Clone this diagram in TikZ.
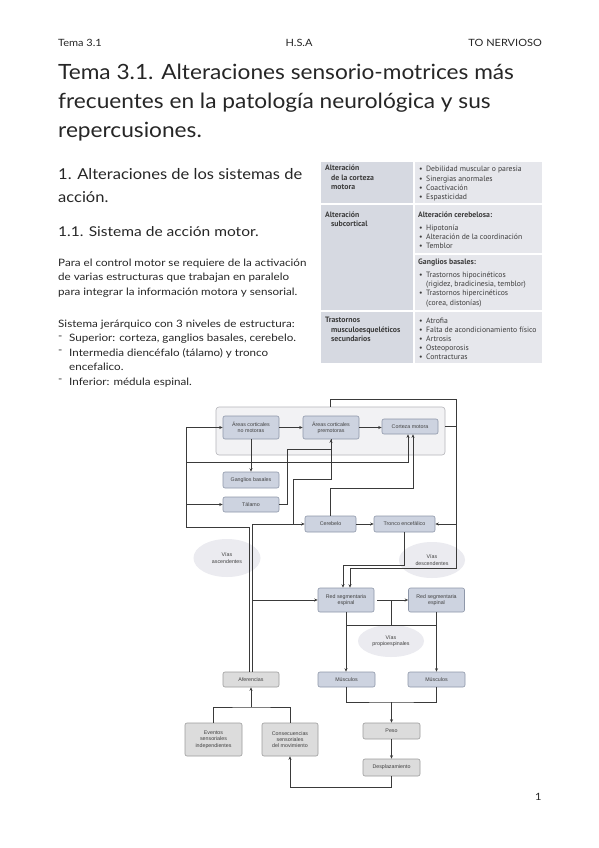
\documentclass[tikz,border=0pt]{standalone}
\usepackage{fontspec}
\setmainfont{Lato}
\newfontfamily\hdrfont[FakeStretch=1.1]{Lato}
\newfontfamily\ttlfont[FakeStretch=1.08]{Lato}
\newfontfamily\honefont[FakeStretch=1.1]{Lato}
\newfontfamily\htwofont[FakeStretch=1.15]{Lato}
\newfontfamily\bodyfont[FakeStretch=1.14]{Lato}
\newfontfamily\tabfont{PT Sans}
\newfontfamily\diafont{Liberation Sans}
\usetikzlibrary{arrows.meta,shapes.geometric}
\definecolor{ink}{HTML}{262626}
\definecolor{tabL}{HTML}{D6D9E1}
\definecolor{tabR}{HTML}{E6E7EC}
\definecolor{tabink}{HTML}{3C3C3C}
\definecolor{bfill}{HTML}{CDD3E0}
\definecolor{bdraw}{HTML}{8E97A9}
\definecolor{gfill}{HTML}{DCDCDC}
\definecolor{gdraw}{HTML}{9C9C9C}
\definecolor{grpfill}{HTML}{F2F2F4}
\definecolor{grpdraw}{HTML}{B4B4B9}
\definecolor{ellfill}{HTML}{EBEBF0}
\definecolor{wirec}{HTML}{3A3A3A}
\definecolor{dink}{HTML}{404040}
\begin{document}
\begin{tikzpicture}[x=1pt,y=-1pt,
  txt/.style={inner sep=0pt,anchor=base west,text=ink},
  hdr/.style={txt,font=\hdrfont\fontsize{10}{12}\selectfont},
  ttl/.style={txt,font=\ttlfont\fontsize{21}{25}\selectfont},
  hone/.style={txt,font=\honefont\fontsize{15}{18}\selectfont},
  htwo/.style={txt,font=\htwofont\fontsize{13.5}{16}\selectfont},
  body/.style={txt,font=\bodyfont\fontsize{10.2}{12}\selectfont},
  tabh/.style={txt,text=tabink,font=\tabfont\bfseries\fontsize{7.8}{9}\selectfont},
  tabt/.style={txt,text=tabink,font=\tabfont\fontsize{7.7}{9}\selectfont},
  box/.style={rounded corners=2pt,line width=0.6pt,inner sep=0pt,align=center,text=dink,
              font=\diafont\fontsize{5.3}{6.3}\selectfont},
  bbox/.style={box,draw=bdraw,fill=bfill},
  gbox/.style={box,draw=gdraw,fill=gfill},
  ell/.style={ellipse,fill=ellfill,inner sep=0pt,align=center,text=dink,
              font=\diafont\fontsize{5.3}{6.3}\selectfont},
  wire/.style={draw=wirec,line width=0.85pt},
  arr/.style={wire,-{Stealth[length=3.5pt,width=3pt]}}
]
\fill[white] (0,0) rectangle (599,848);
\path[use as bounding box] (0,0) rectangle (599,848);

% header
\node[hdr] (hl) at (58,47) {Tema 3.1};
\node[hdr,anchor=base] (hc) at (299,47) {H.S.A};
\node[hdr,anchor=base east] (hr) at (542,47) {TO NERVIOSO};

% title
\node[ttl] (t1) at (58,80) {Tema 3.1. Alteraciones sensorio-motrices más};
\node[ttl] (t2) at (58,109) {frecuentes en la patología neurológica y sus};
\node[ttl] (t3) at (58,138) {repercusiones.};

% left column
\node[hone] (s1) at (58,179) {1. Alteraciones de los sistemas de};
\node[hone] (s2) at (58,202) {acción.};
\node[htwo] (s3) at (58,236) {1.1. Sistema de acción motor.};
\node[body] (p1) at (58,266) {Para el control motor se requiere de la activación};
\node[body] (p2) at (58,280.5) {de varias estructuras que trabajan en paralelo};
\node[body] (p3) at (58,295) {para integrar la información motora y sensorial.};
\node[body] (q1) at (58,327) {Sistema jerárquico con 3 niveles de estructura:};
\node[body] (d1) at (58,339) {-};
\node[body] (q2) at (69,341.5) {Superior: corteza, ganglios basales, cerebelo.};
\node[body] (d2) at (58,353.5) {-};
\node[body] (q3) at (69,356) {Intermedia diencéfalo (tálamo) y tronco};
\node[body] (q4) at (69,370.5) {encefalico.};
\node[body] (d3) at (58,382.5) {-};
\node[body] (q5) at (69,385) {Inferior: médula espinal.};

% table
\fill[tabL] (321,162) rectangle (413,203);
\fill[tabR] (415,162) rectangle (542,203);
\fill[tabL] (321,205) rectangle (413,310);
\fill[tabR] (415,205) rectangle (542,253);
\fill[tabR] (415,255) rectangle (542,310);
\fill[tabL] (321,312) rectangle (413,363);
\fill[tabR] (415,312) rectangle (542,363);
\foreach \x/\y/\t [count=\i] in {325/170.5/Alteración, 331/180/de la corteza, 331/189.5/motora,
  325/217.5/Alteración, 331/226.5/subcortical, 325/322.5/Trastornos,
  331/332/musculoesqueléticos, 331/341.5/secundarios,
  418/217.5/Alteración cerebelosa:, 418/264.5/Ganglios basales:}
  \node[tabh] (lh\i) at (\x,\y) {\t};
\foreach \y/\t [count=\i] in {171.5/Debilidad muscular o paresia, 181/Sinergias anormales,
  190.3/Coactivación, 199.6/Espasticidad, 230.5/Hipotonía,
  239.5/Alteración de la coordinación, 248.5/Temblor, 277.5/Trastornos hipocinéticos,
  295.5/Trastornos hipercinéticos, 323.5/Atrofia, 332.5/Falta de acondicionamiento físico,
  341.5/Artrosis, 350.5/Osteoporosis, 359.5/Contracturas}
  {\node[tabt] (bu\i) at (419,\y) {•};
   \node[tabt] (rt\i) at (426,\y) {\t};}
\node[tabt] (rc1) at (426,286.5) {(rigidez, bradicinesia, temblor)};
\node[tabt] (rc2) at (426,305.5) {(corea, distonías)};

% diagram background shapes
\node[rounded corners=3pt,draw=grpdraw,fill=grpfill,line width=0.6pt,
      minimum width=229pt,minimum height=48pt,inner sep=0pt] (grp) at (330.5,431) {};
\node[ell,minimum width=67pt,minimum height=38pt] (va) at (227,558) {Vías\\ascendentes};
\node[ell,minimum width=66pt,minimum height=36pt] (vd) at (432,560) {Vías\\descendentes};
\node[ell,minimum width=66pt,minimum height=32pt] (vp) at (391,641) {Vías\\propioespinales};

% diagram nodes
\node[bbox,minimum width=56pt,minimum height=23pt] (nm) at (251,427.5) {Áreas corticales\\no motoras};
\node[bbox,minimum width=56pt,minimum height=23pt] (pm) at (331,427.5) {Áreas corticales\\premotoras};
\node[bbox,minimum width=56pt,minimum height=15pt] (cm) at (410,426.5) {Corteza motora};
\node[bbox,minimum width=56pt,minimum height=16pt] (gb) at (251,480) {Ganglios basales};
\node[bbox,minimum width=56pt,minimum height=15pt] (ta) at (251,504.5) {Tálamo};
\node[bbox,minimum width=51pt,minimum height=16pt] (ce) at (330.5,524) {Cerebelo};
\node[bbox,minimum width=61pt,minimum height=16pt] (tr) at (404.5,524) {Tronco encefálico};
\node[bbox,minimum width=56pt,minimum height=24pt] (rs1) at (346,600) {Red segmentaria\\espinal};
\node[bbox,minimum width=56pt,minimum height=24pt] (rs2) at (436.5,600) {Red segmentaria\\espinal};
\node[gbox,minimum width=56pt,minimum height=15pt] (af) at (251,679.5) {Aferencias};
\node[bbox,minimum width=57pt,minimum height=15pt] (mu1) at (346.5,679.5) {Músculos};
\node[bbox,minimum width=57pt,minimum height=15pt] (mu2) at (436.5,679.5) {Músculos};
\node[gbox,minimum width=57pt,minimum height=33pt] (ev) at (213.5,739.5) {Eventos\\sensoriales\\independientes};
\node[gbox,minimum width=56pt,minimum height=33pt] (co) at (290,739.5) {Consecuencias\\sensoriales\\del movimiento};
\node[gbox,minimum width=57pt,minimum height=16pt] (pe) at (391.5,731) {Peso};
\node[gbox,minimum width=57pt,minimum height=17pt] (de) at (391.5,767.5) {Desplazamiento};

% connectors
\draw[arr] (nm.east) -- (pm.west);
\draw[arr] (pm.east) -- (pm.east -| cm.west);
\draw[arr] (nm.south) -- (gb.north);
\draw[arr] ([xshift=-1.6pt]af.north) |- (186,527) |- (nm.west);
\draw[arr] (186,504.5) -- (ta.west);
\draw[arr] (186,462) -| ([xshift=-2pt]cm.south);
\draw[arr] ([xshift=1.6pt]af.north) |- (ce.west);
\draw[arr] (252.6,600) -- (rs1.west);
\draw[arr] (ta.east) -| (287,449) -| (pm.south);
\draw[wire] (pm.south) -- (331,479) -| (293,524);
\draw[arr] (ce.north) |- (413,488) -- ([xshift=3pt]cm.south);
\draw[arr] (ce.east) -- (tr.west);
\draw[arr] (grp.north) -- (330.5,399) -| (456,568) -| ([xshift=4pt]rs1.north);
\draw[wire] (grp.east |- cm.east) -- (456,426.5);
\draw[arr] (456,524) -- (tr.east);
\draw[arr] (tr.south) |- (343,565) -- ([xshift=-3pt]rs1.north);
\draw[arr,shorten <=3pt] (rs1.east) -- (rs2.west);
\draw[wire] (391.5,600) -- (391.5,625);
\draw[wire] (346,625) -- (436.5,625);
\draw[arr] (rs1.south) -- (rs1.south |- mu1.north);
\draw[arr] (rs2.south) -- (mu2.north);
\draw[wire] (mu1.south) |- (391.5,702) -| (mu2.south);
\draw[arr] (391.5,702) -- (pe.north);
\draw[arr] (pe.south) -- (de.north);
\draw[arr] (de.south) -- (391.5,787) -| (co.south);
\draw[wire] (ev.north) |- (251,707) -| (co.north);
\draw[arr] (251,707) -- (af.south);

% page number
\node[hdr] (pg) at (535,800) {1};
\end{tikzpicture}
\end{document}
